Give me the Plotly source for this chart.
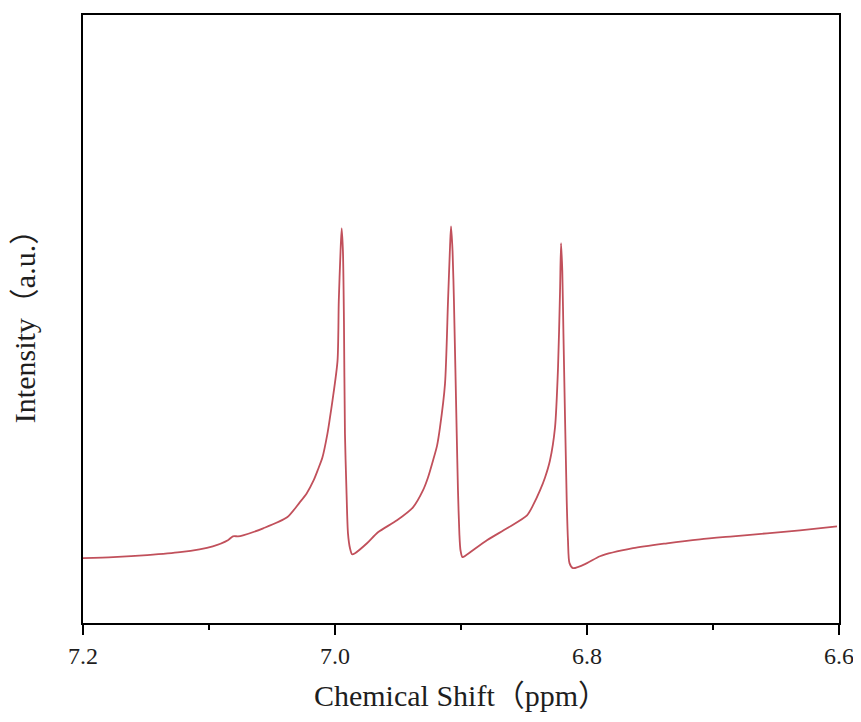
import plotly.graph_objects as go

# Chemical shift (ppm) and intensity (a.u.)
ppm = [7.200, 7.176, 7.149, 7.123, 7.097, 7.085, 7.081, 7.077, 7.073, 7.057,
       7.038, 7.028, 7.0225, 7.017, 7.0135, 7.010, 7.006, 7.0040, 7.002, 6.998,
       6.997, 6.9956, 6.9947,
       6.9937, 6.9929, 6.9921, 6.9909, 6.9897, 6.9881, 6.9865, 6.9841, 6.9746, 6.9659,
       6.9508, 6.9381, 6.9302, 6.9262, 6.9222, 6.9190, 6.9167, 6.9127, 6.9103, 6.9087,
       6.9079, 6.9067,
       6.9056, 6.9034, 6.9024, 6.9013, 6.9004, 6.8988, 6.8960, 6.8794, 6.8635, 6.8476,
       6.8429, 6.8373, 6.8333, 6.8294, 6.8254, 6.8230, 6.8214, 6.8206, 6.8196, 6.8187,
       6.8161, 6.8151,
       6.8139, 6.8111, 6.8000, 6.7897, 6.7635, 6.7365, 6.7103, 6.6841, 6.6571, 6.6310,
       6.6016]
intensity = [10.66, 10.82, 11.15, 11.64, 12.62, 13.61, 14.26, 14.26, 14.43, 15.57,
             17.38, 19.84, 21.31, 23.44, 25.25, 27.21, 31.15, 33.77, 36.56, 43.11,
             52.95, 61.15, 64.92,
             61.15, 49.67, 31.15, 21.80, 14.75, 12.30, 11.31, 11.48, 13.11, 14.92,
             16.89, 19.02, 21.80, 23.93, 26.72, 29.18, 32.13, 39.34, 52.95, 61.97,
             65.25, 61.15,
             52.95, 31.15, 21.80, 14.75, 11.97, 10.82, 11.15, 13.61, 15.57, 17.70,
             19.34, 21.80, 23.93, 26.72, 32.13, 41.97, 54.59, 62.46, 57.87, 47.54,
             20.16, 13.61,
             9.84, 9.02, 9.84, 10.98, 12.30, 13.11, 13.77, 14.26, 14.75, 15.25,
             15.90]

x_ticks = [7.2, 7.0, 6.8, 6.6]
x_tick_labels = ["7.2", "7.0", "6.8", "6.6"]

font_family = "Liberation Serif, Noto Sans CJK SC, serif"
text_color = "#1e1e1e"

fig = go.Figure()
fig.add_trace(go.Scatter(
    x=ppm, y=intensity, mode="lines",
    line=dict(color="#c1505b", width=1.8, shape="spline", smoothing=0.7),
    showlegend=False, hoverinfo="skip",
))

fig.update_layout(
    width=853, height=704,
    margin=dict(l=75, r=22, t=5, b=89),
    paper_bgcolor="white", plot_bgcolor="white",
    font=dict(family=font_family, color=text_color),
)

fig.update_xaxes(
    range=[7.2, 6.6],
    tickmode="array", tickvals=x_ticks, ticktext=x_tick_labels,
    ticks="outside", ticklen=10, tickwidth=2, tickcolor="black",
    tickfont=dict(size=24, family=font_family, color=text_color),
    ticklabeloverflow="allow",
    minor=dict(dtick=0.1, tick0=7.2, ticks="outside", ticklen=5, tickwidth=2, tickcolor="black"),
    showline=True, linewidth=2, linecolor="black", mirror=True,
    showgrid=False, zeroline=False,
    title=dict(text="Chemical Shift（ppm）", font=dict(size=30, family=font_family, color=text_color), standoff=17),
)
fig.update_yaxes(
    range=[0, 100],
    showticklabels=False, ticks="",
    showline=True, linewidth=2, linecolor="black", mirror=True,
    showgrid=False, zeroline=False,
    title=dict(text="Intensity（a.u.）", font=dict(size=30, family=font_family, color=text_color), standoff=42),
)

fig.write_html("out.html")
